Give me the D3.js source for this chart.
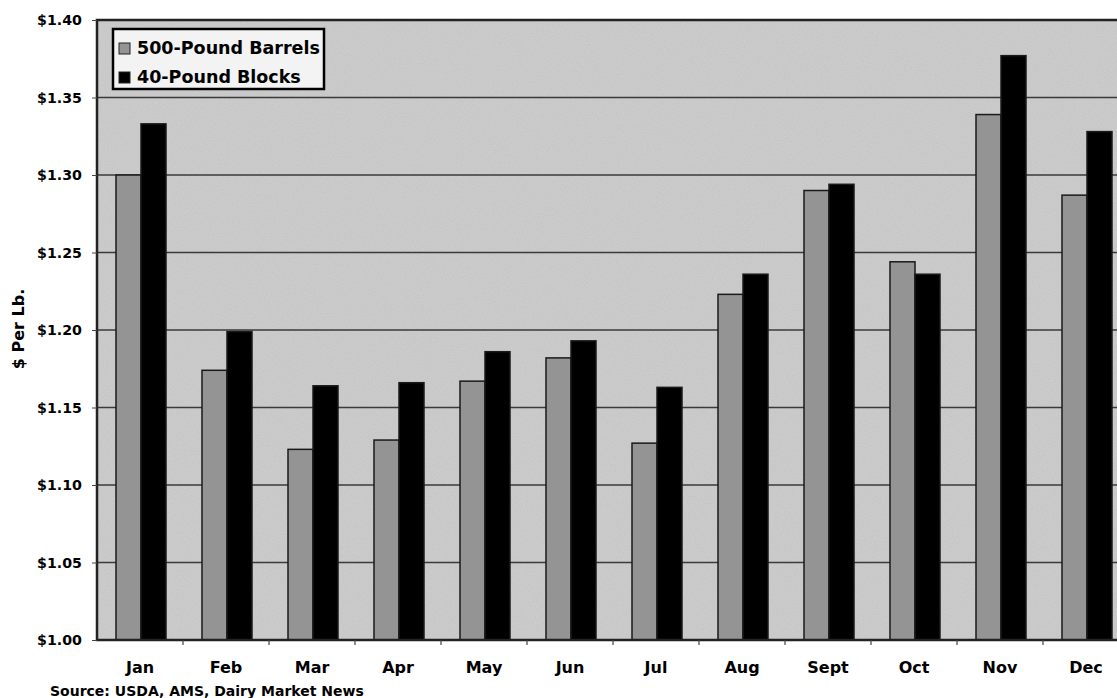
<!DOCTYPE html>
<html><head><meta charset="utf-8">
<script src="https://cdn.jsdelivr.net/npm/d3@7"></script>
<style>
html,body{margin:0;padding:0;background:#fff;overflow:hidden;}
svg{display:block;font-family:"DejaVu Sans",sans-serif;font-weight:bold;}
</style></head>
<body>
<svg id="chart" width="1117" height="698"></svg>
<script>
const months = ["Jan","Feb","Mar","Apr","May","Jun","Jul","Aug","Sept","Oct","Nov","Dec"];
const barrels = [1.300,1.174,1.123,1.129,1.167,1.182,1.127,1.223,1.290,1.244,1.339,1.287];
const blocks  = [1.333,1.199,1.164,1.166,1.186,1.193,1.163,1.236,1.294,1.236,1.377,1.328];
const seriesNames = ["500-Pound Barrels","40-Pound Blocks"];
const yTicks = [1.00,1.05,1.10,1.15,1.20,1.25,1.30,1.35,1.40];

const FONT = "'DejaVu Sans',sans-serif";
const svg = d3.select("#chart");
const m = {left:97, top:20, bottom:640, right:1129};

const x = d3.scaleBand().domain(months).range([m.left, m.right]).paddingInner(0).paddingOuter(0);
const x1 = d3.scaleBand().domain(seriesNames).range([1, x.bandwidth()+1]).paddingInner(0).paddingOuter(0.72);
const y = d3.scaleLinear().domain([1.0, 1.4]).range([m.bottom, m.top]);

// grain filter for scanned texture
const defs = svg.append("defs");
const f = defs.append("filter").attr("id","grain").attr("x",0).attr("y",0).attr("width","100%").attr("height","100%");
f.append("feTurbulence").attr("type","fractalNoise").attr("baseFrequency",0.9).attr("numOctaves",2).attr("seed",3).attr("result","n");
f.append("feColorMatrix").attr("in","n").attr("type","matrix")
 .attr("values","0 0 0 0 0  0 0 0 0 0  0 0 0 0 0  0 0 0 0.14 0").attr("result","a");
f.append("feComposite").attr("in","a").attr("in2","SourceGraphic").attr("operator","in").attr("result","b");
f.append("feMerge").selectAll("feMergeNode").data(["SourceGraphic","b"]).join("feMergeNode").attr("in",d=>d);

// plot background
svg.append("rect").attr("x",m.left).attr("y",m.top).attr("width",m.right-m.left).attr("height",m.bottom-m.top)
  .attr("fill","#d0d0d0").attr("filter","url(#grain)");

// gridlines
svg.append("g").selectAll("line").data(yTicks.filter(d=>d>1.0 && d<1.4)).join("line")
  .attr("x1",m.left).attr("x2",m.right).attr("y1",d=>y(d)).attr("y2",d=>y(d))
  .attr("stroke","#3a3a3a").attr("stroke-width",1.3);

// bars
const g = svg.append("g");
const data = months.map((mo,i)=>({mo, vals:[{s:seriesNames[0],v:barrels[i]},{s:seriesNames[1],v:blocks[i]}]}));
g.selectAll("g").data(data).join("g").attr("transform",d=>`translate(${x(d.mo)},0)`)
 .selectAll("rect").data(d=>d.vals).join("rect")
 .attr("x",d=>x1(d.s)).attr("width",x1.bandwidth())
 .attr("y",d=>y(d.v)).attr("height",d=>y(1.0)-y(d.v))
 .attr("fill",d=>d.s===seriesNames[0]?"#949494":"#000")
 .attr("stroke","#1a1a1a").attr("stroke-width",1.5);

// frame
svg.append("rect").attr("x",m.left).attr("y",m.top).attr("width",m.right-m.left).attr("height",m.bottom-m.top)
  .attr("fill","none").attr("stroke","#222").attr("stroke-width",2.5);

// y axis
const yAxis = d3.axisLeft(y).tickValues(yTicks).tickFormat(d=>"$"+d3.format(".2f")(d)).tickSize(5).tickPadding(10);
const ya = svg.append("g").attr("transform",`translate(${m.left},0)`).call(yAxis);
ya.select(".domain").remove();
ya.selectAll("line").attr("stroke","#444");
ya.selectAll("text").attr("font-size",14.2).attr("font-weight","bold").attr("fill","#000").attr("font-family",FONT);

// x axis
const xAxis = d3.axisBottom(x).tickSize(0).tickPadding(22);
const xa = svg.append("g").attr("transform",`translate(0,${m.bottom})`).call(xAxis);
xa.select(".domain").remove();
xa.selectAll("text").attr("font-size",16).attr("font-weight","bold").attr("fill","#000").attr("font-family",FONT);
// boundary ticks
svg.append("g").selectAll("line").data(months.slice(1)).join("line")
  .attr("x1",d=>x(d)).attr("x2",d=>x(d)).attr("y1",m.bottom).attr("y2",m.bottom+5)
  .attr("stroke","#444").attr("stroke-width",1.2);

// y label
svg.append("text").attr("transform","translate(24,329) rotate(-90)").attr("text-anchor","middle")
  .attr("font-size",16).text("$ Per Lb.");

// source
svg.append("text").attr("x",50).attr("y",696).attr("font-size",14).text("Source: USDA, AMS, Dairy Market News");

// legend
const lg = svg.append("g").attr("transform","translate(113,29)");
lg.append("rect").attr("width",211).attr("height",60).attr("fill","#f3f3f3").attr("stroke","#000").attr("stroke-width",2.5);
const items = lg.selectAll("g").data(seriesNames).join("g").attr("transform",(d,i)=>`translate(6,${14+i*29})`);
items.append("rect").attr("width",11).attr("height",11).attr("fill",(d,i)=>i?"#000":"#949494").attr("stroke","#222").attr("stroke-width",1);
items.append("text").attr("x",18).attr("y",11).attr("font-size",17.5).text(d=>d);
</script>
</body></html>
